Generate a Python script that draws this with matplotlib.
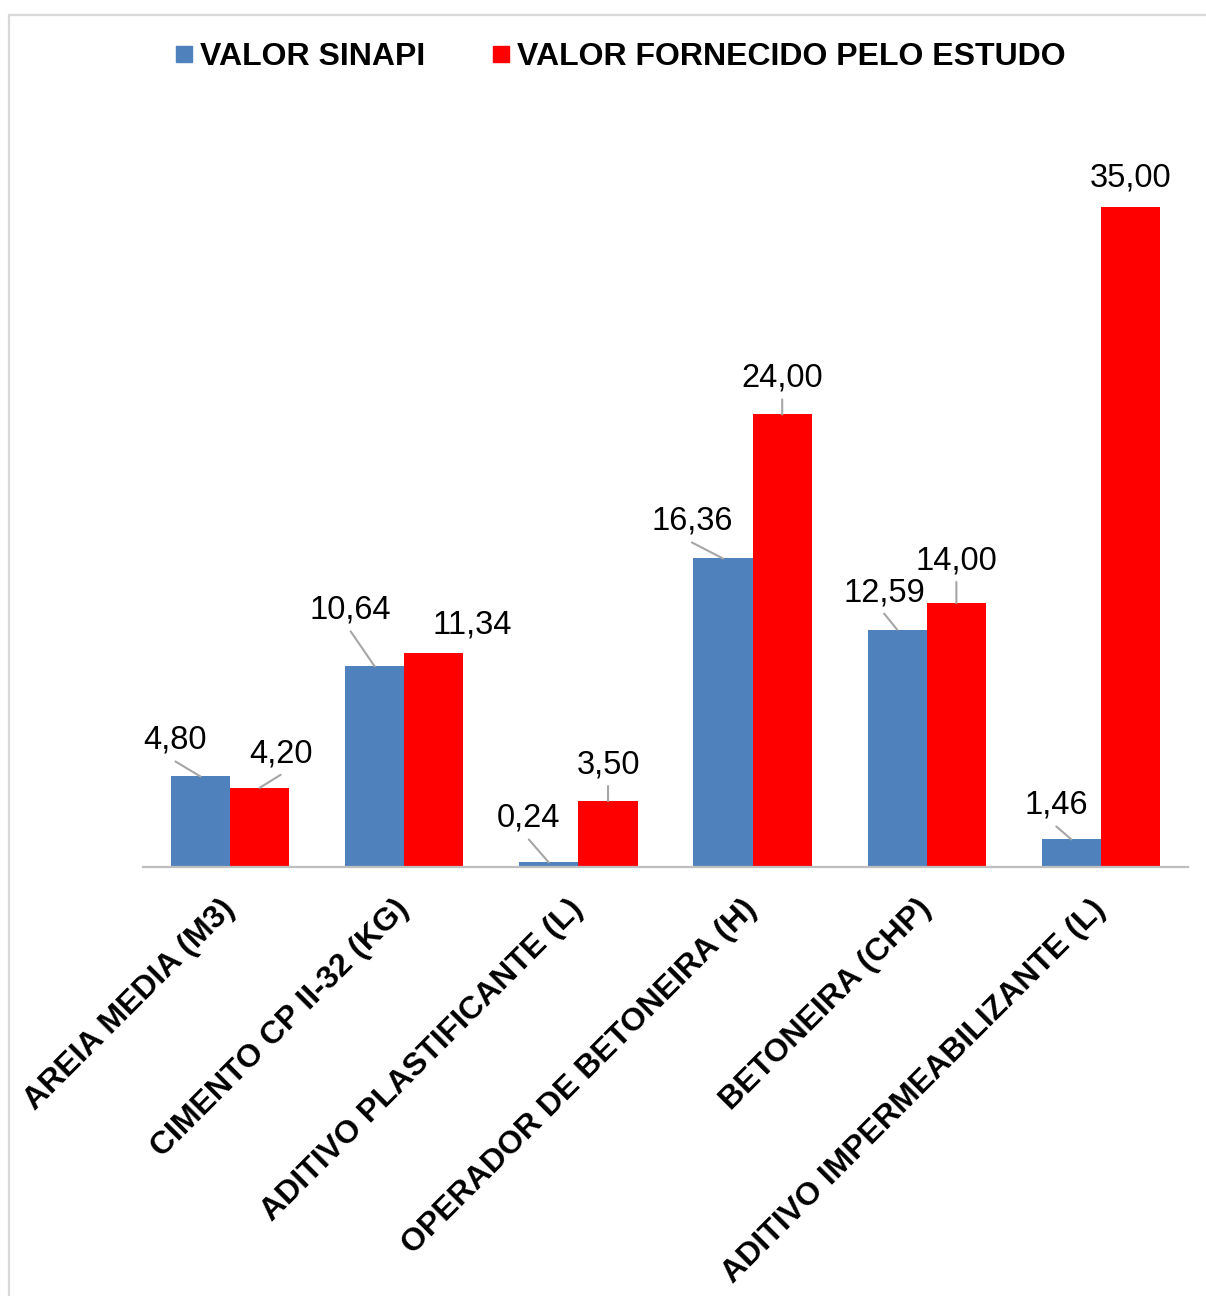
import matplotlib
matplotlib.use("Agg")
import matplotlib.pyplot as plt
import numpy as np
from matplotlib.lines import Line2D
from matplotlib.patches import Rectangle

categories = [
    "AREIA MEDIA (M3)",
    "CIMENTO CP II-32 (KG)",
    "ADITIVO PLASTIFICANTE (L)",
    "OPERADOR DE BETONEIRA (H)",
    "BETONEIRA (CHP)",
    "ADITIVO IMPERMEABILIZANTE (L)",
]
sinapi = [4.80, 10.64, 0.24, 16.36, 12.59, 1.46]
estudo = [4.20, 11.34, 3.50, 24.00, 14.00, 35.00]
series_names = ["VALOR SINAPI", "VALOR FORNECIDO PELO ESTUDO"]

# label offsets in pixels from bar top (dx, dy), and whether a leader line is drawn
sinapi_offsets = [(-25, 36), (-24, 56), (-20, 44), (-31, 37), (-13, 37), (-15, 34)]
estudo_offsets = [(21, 34), (38, 28), (0, 36), (0, 36), (0, 42), (0, 29)]
estudo_leader = [True, False, True, True, True, False]

BLUE = "#4F81BD"
RED = "#FF0000"
GRID = "#BFBFBF"

plt.rcParams["font.family"] = ["Liberation Sans", "DejaVu Sans"]

W, H = 1206, 1296
fig = plt.figure(figsize=(W / 100, H / 100), dpi=100)

# outer chart frame
fig.patches.append(Rectangle((9 / W, -0.05), 1.2, 1 - 15 / H + 0.05,
                             transform=fig.transFigure, fill=False,
                             edgecolor="#D9D9D9", lw=1.6))

ymax = 40
px_per_unit = (867 - 207) / 35.0
ax_h = ymax * px_per_unit
ax = fig.add_axes([143 / W, (H - 867) / H, (1188 - 143) / W, ax_h / H])

x = np.arange(len(categories))
bw = 0.34
ax.bar(x - bw / 2, sinapi, bw, color=BLUE, label=series_names[0])
ax.bar(x + bw / 2, estudo, bw, color=RED, label=series_names[1])

ax.set_xlim(-0.5, len(categories) - 0.5)
ax.set_ylim(0, ymax)
for s in ["top", "left", "right"]:
    ax.spines[s].set_visible(False)
ax.spines["bottom"].set_color(GRID)
ax.spines["bottom"].set_linewidth(1.6)
ax.set_yticks([])
ax.set_xticks(x)
ax.set_xticklabels(categories, rotation=45, ha="right", va="center",
                   rotation_mode="anchor", fontsize=23, fontweight="bold")
ax.tick_params(axis="x", length=0, pad=27)


def label_bars(xs, vals, offsets, leaders):
    for xi, v, (dx, dy), lead in zip(xs, vals, offsets, leaders):
        txt = f"{v:.2f}".replace(".", ",")
        ax.annotate(txt, xy=(xi, v), xytext=(dx, dy),
                    textcoords="offset pixels", ha="center", va="center",
                    fontsize=23.5, color="black", annotation_clip=False)
        if lead:
            # leader line from just below the label to the bar top
            ax.annotate("", xy=(xi, v), xytext=(dx, dy - 21),
                        textcoords="offset pixels", annotation_clip=False,
                        arrowprops=dict(arrowstyle="-", color="#A6A6A6",
                                        lw=1.5, shrinkA=0, shrinkB=0))


label_bars(x - bw / 2, sinapi, sinapi_offsets, [True] * len(sinapi))
label_bars(x + bw / 2, estudo, estudo_offsets, estudo_leader)

handles = [
    Line2D([], [], marker="s", linestyle="none", markersize=12.2,
           markerfacecolor=BLUE, markeredgecolor=BLUE),
    Line2D([], [], marker="s", linestyle="none", markersize=12.2,
           markerfacecolor=RED, markeredgecolor=RED),
]
leg = fig.legend(handles, series_names, loc="center",
                 bbox_to_anchor=(620 / W, 1 - 57 / H), ncol=2, frameon=False,
                 prop=dict(size=23, weight="bold"), handlelength=0.6,
                 handletextpad=0.2, columnspacing=2.1, borderaxespad=0)

fig.savefig("out.png", dpi=100)
